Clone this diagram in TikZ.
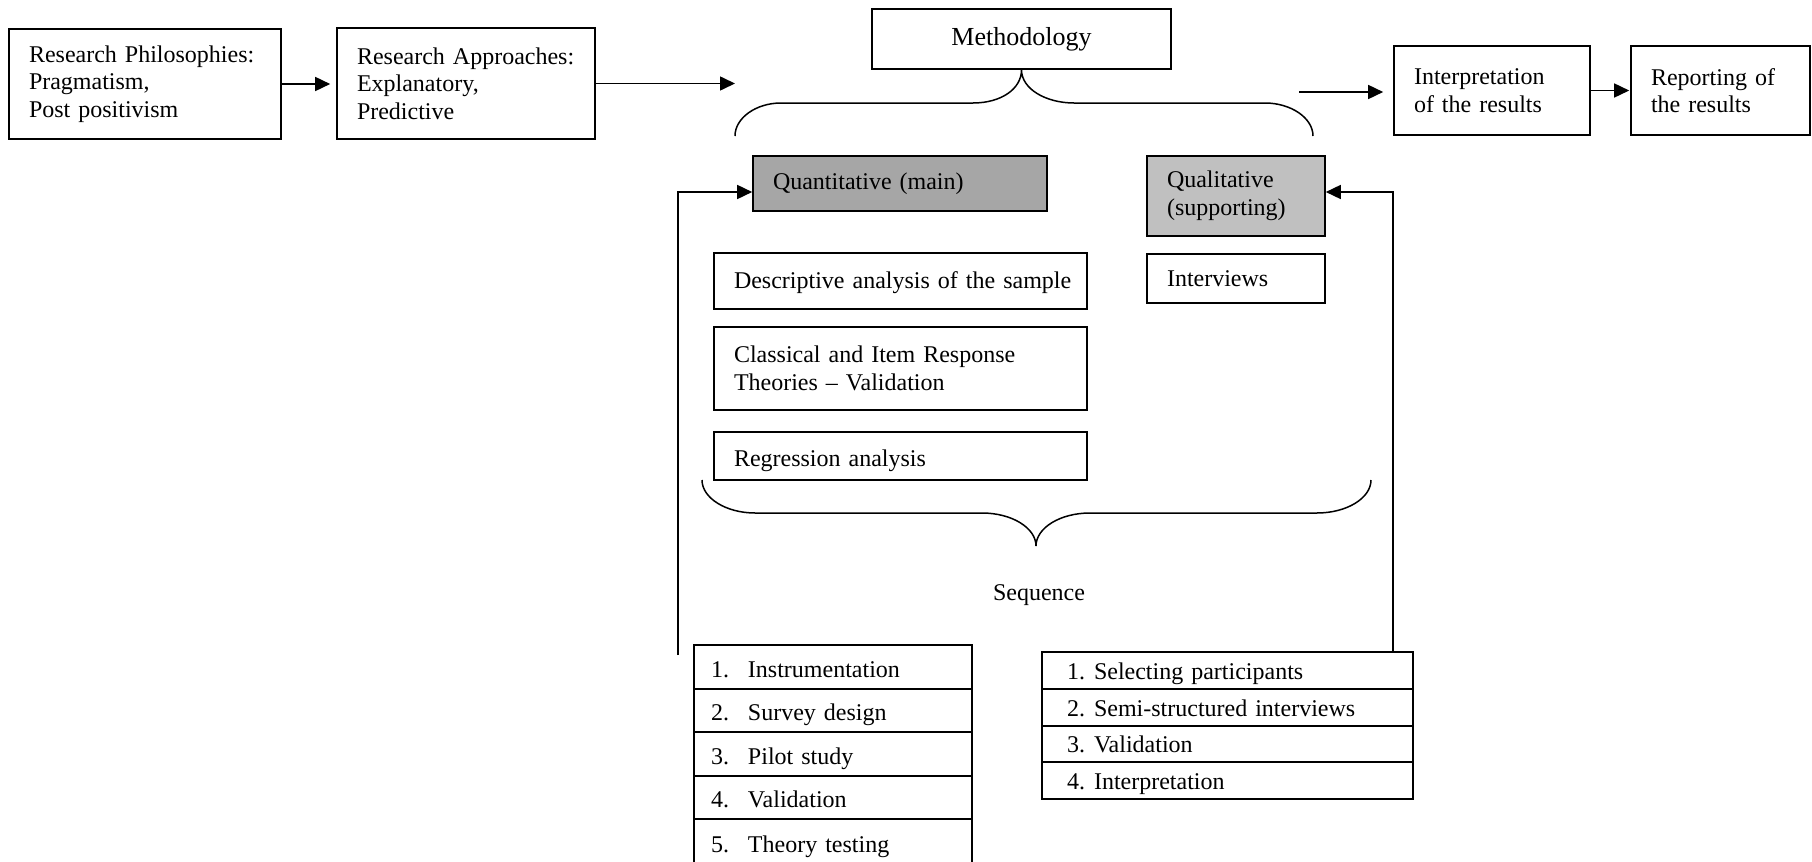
\documentclass[tikz,border=0pt]{standalone}
\usepackage{fontspec}
\setmainfont{Liberation Serif}
\usetikzlibrary{arrows.meta,calc}
\definecolor{quantfill}{RGB}{166,166,166}
\definecolor{qualfill}{RGB}{192,192,192}
\begin{document}
\begin{tikzpicture}[x=0.5pt,y=-0.5pt,
  every node/.style={font=\fontsize{12}{13.8}\selectfont},
  box/.style={draw, line width=0.8pt, inner xsep=10pt, inner ysep=0pt, align=left},
  row/.style={draw, line width=0.8pt, inner ysep=0pt, align=left},
  conn/.style={line width=0.8pt},
  arr/.style={conn, -{Triangle[length=7.5pt,width=7pt]}},
  brace/.style={line width=0.75pt}]
\useasboundingbox (0,0) rectangle (1812,862);

% top row
\node[box, minimum width=136pt, minimum height=55pt, text width=116pt] (phil) at (145,84)
  {\mbox{Research Philosophies:}\\Pragmatism,\\Post positivism};
\node[box, minimum width=129pt, minimum height=55.5pt, text width=109pt] (appr) at (466,83.5)
  {\mbox{Research Approaches:}\\Explanatory,\\Predictive};
\node[box, minimum width=149.5pt, minimum height=30pt, align=center, font=\fontsize{13}{15.6}\selectfont] (meth) at (1021.5,39)
  {Methodology};
\node[box, minimum width=98pt, minimum height=44.5pt, text width=78pt] (interp) at (1492,90.5)
  {Interpretation\\of the results};
\node[box, minimum width=89.5pt, minimum height=44.5pt, text width=69.5pt] (report) at (1720.5,90.5)
  {Reporting of\\the results};

% methods
\node[box, fill=quantfill, minimum width=147pt, minimum height=27.5pt, text width=127pt] (quant) at (900,183.5)
  {Quantitative (main)};
\node[box, fill=qualfill, minimum width=89pt, minimum height=40pt, text width=69pt] (qual) at (1236,196)
  {Qualitative\\(supporting)};
\node[box, minimum width=186.5pt, minimum height=28pt, text width=166.5pt, text height=9pt, text depth=2pt] (desc) at (900.5,281)
  {\mbox{Descriptive analysis of the sample}};
\node[box, minimum width=89pt, minimum height=24.5pt, text width=69pt] (intv) at (1236,278.5)
  {Interviews};
\node[box, minimum width=186.5pt, minimum height=41.5pt, text width=166.5pt] (class) at (900.5,368.5)
  {\mbox{Classical and Item Response}\\\mbox{Theories -- Validation}};
\node[box, minimum width=186.5pt, minimum height=24pt, text width=166.5pt, text height=10pt, text depth=0pt] (regr) at (900.5,456)
  {Regression analysis};

\node[inner sep=0pt] (seq) at (1039,595) {Sequence};

% quantitative sequence
\tikzset{qrow/.style={row, minimum width=139pt, inner xsep=8.5pt, text width=122pt, text height=10pt, text depth=0pt}}
\node[qrow, minimum height=22pt] (t1) at (833,667) {\makebox[18.5pt][l]{1.}Instrumentation};
\node[qrow, minimum height=21.5pt] (t2) at (833,710.5) {\makebox[18.5pt][l]{2.}Survey design};
\node[qrow, minimum height=22pt] (t3) at (833,754) {\makebox[18.5pt][l]{3.}Pilot study};
\node[qrow, minimum height=21.5pt] (t4) at (833,797.5) {\makebox[18.5pt][l]{4.}Validation};
\node[qrow, minimum height=23.5pt] (t5) at (833,842.5) {\makebox[18.5pt][l]{5.}Theory testing};

% qualitative sequence
\tikzset{lrow/.style={row, minimum width=185.5pt, inner xsep=12.5pt, text width=160.5pt, text height=9.5pt, text depth=1pt}}
\node[lrow, minimum height=18.5pt] (s1) at (1227.5,670.5) {\makebox[13.5pt][l]{1.}Selecting participants};
\node[lrow, minimum height=18.5pt] (s2) at (1227.5,707.5) {\makebox[13.5pt][l]{2.}\mbox{Semi-structured interviews}};
\node[lrow, minimum height=18pt] (s3) at (1227.5,744) {\makebox[13.5pt][l]{3.}Validation};
\node[lrow, minimum height=18.5pt] (s4) at (1227.5,780.5) {\makebox[13.5pt][l]{4.}Interpretation};

% connectors
\coordinate (a2end) at (735,83);
\coordinate (a3start) at (1299,92);
\coordinate (lstart) at (678,655);
\coordinate (rstart) at (1393,652);

\draw[arr, shorten >=3pt] (phil.east) -- (phil.east -| appr.west);
\draw[arr] (appr.east) -- (appr.east -| a2end);
\draw[arr, shorten >=5pt] (a3start) -- (a3start -| interp.west);
\draw[arr, shorten >=0.5pt] (interp.east) -- (report.west);
\draw[arr] (lstart) |- ($(quant.west)+(0,8.5)$);
\draw[arr] (rstart) |- ($(qual.east)+(0,-4)$);

% braces
\draw[brace] (735,136) .. controls (735,118) and (756,103) .. (781,103) -- (973,103)
  .. controls (1001,103) and (1021.5,89) .. (meth.south)
  .. controls (1021.5,89) and (1046,103) .. (1074,103) -- (1265,103)
  .. controls (1291,103) and (1313,118) .. (1313,136);
\draw[brace] (702,480) .. controls (702,498) and (726,513) .. (755,513) -- (982,513)
  .. controls (1012,513) and (1036,528) .. (1036,546)
  .. controls (1036,528) and (1060,513) .. (1090,513) -- (1317,513)
  .. controls (1347,513) and (1371,498) .. (1371,480);
\end{tikzpicture}
\end{document}
